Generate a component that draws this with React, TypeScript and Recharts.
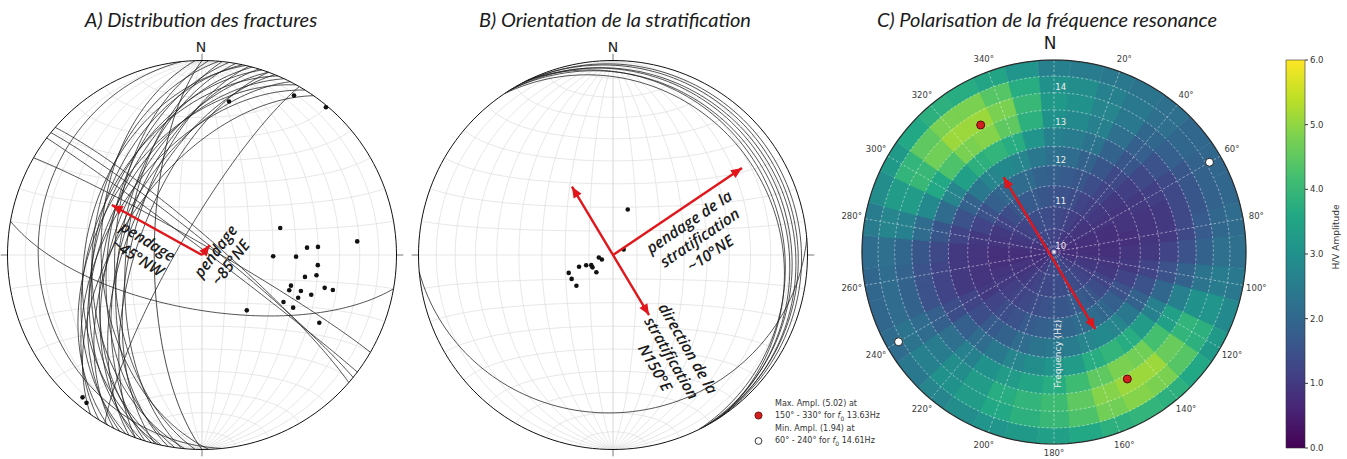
import React from 'react';
import {
  Bar,
  BarChart,
  Cell,
  PolarAngleAxis,
  PolarRadiusAxis,
  RadialBar,
  RadialBarChart,
  Scatter,
  ScatterChart,
  XAxis,
  YAxis
} from 'recharts';

// ---------- A) fractures : planes as [dip direction, dip], poles as [trend, plunge]
const FRACTURE_PLANES: Array<[number, number]> = [
  [264, 17], [270, 70], [300, 80],
  [268, 47], [272, 53], [275, 43], [276, 58], [278, 50], [280, 55], [282, 44],
  [284, 60], [285, 49], [287, 56], [288, 45], [290, 52], [292, 58], [293, 43],
  [295, 48], [297, 54], [299, 45], [302, 50], [305, 56], [283, 40], [290, 63],
  [39, 85], [37, 88], [41, 83], [30, 86],
  [190, 67]
];
const FRACTURE_POLES: Array<[number, number]> = [
  [10, 21], [30, 6], [40, 1], [71, 55], [85, 21], [86, 45], [86, 40], [91, 60],
  [91, 50], [95, 40], [102, 45], [100, 40], [109, 50], [112, 50], [110, 45],
  [105, 35], [105, 31], [114, 45], [110, 40], [120, 50], [120, 45], [141, 60],
  [120, 31], [220, 5], [218, 4]
];

// ---------- B) bedding
const BEDDING_PLANES: Array<[number, number]> = [
  [60, 4], [63, 6], [57, 8], [62, 10], [58, 12], [64, 14], [56, 16], [175, 20]
];
const BEDDING_POLES: Array<[number, number]> = [
  [18, 70], [63, 85], [248, 85], [260, 84], [245, 80], [249, 78], [239, 80],
  [251, 75], [248, 70], [240, 70], [230, 70], [224, 80]
];

// arrows: [azimuth, radius on the net]
type Arrow = { from: [number, number]; to: [number, number]; both: boolean };
const FRACTURE_ARROWS: Arrow[] = [
  { from: [0, 0], to: [299, 0.53], both: false },
  { from: [0, 0], to: [38, 0.065], both: false }
];
const BEDDING_ARROWS: Arrow[] = [
  { from: [0, 0], to: [56, 0.8], both: false },
  { from: [149, 0.36], to: [329, 0.41], both: true }
];
const POLAR_ARROWS: Arrow[] = [{ from: [152, 0.455], to: [326, 0.47], both: true }];

type Note = { x: number; y: number; rot: number; lines: string[] };
const FRACTURE_NOTES: Note[] = [
  { x: -0.305, y: 0.029, rot: 32, lines: ['pendage', '~45°NW'] },
  { x: 0.108, y: -0.01, rot: -53, lines: ['pendage', '~85°NE'] }
];
const BEDDING_NOTES: Note[] = [
  { x: 0.446, y: 0.089, rot: -34, lines: ['pendage de la', 'stratification', '~10°NE'] },
  { x: 0.301, y: -0.53, rot: 60, lines: ['direction de la', 'stratification', 'N150°E'] }
];

// ---------- C) H/V polarisation
const AZIMUTHS = [0, 10, 20, 30, 40, 50, 60, 70, 80, 90, 100, 110, 120, 130, 140, 150, 160, 170,
  180, 190, 200, 210, 220, 230, 240, 250, 260, 270, 280, 290, 300, 310, 320, 330, 340, 350];
const FREQ_EDGES = [10, 10.5, 11, 11.5, 12, 12.5, 13, 13.5, 14, 14.5, 15];
// one row per azimuth, one column per frequency ring
const HV_AMPLITUDE: number[][] = [
  [1.2, 1.3, 1.5, 1.8, 2.2, 2.6, 3.0, 3.2, 3.0, 2.6],
  [1.2, 1.3, 1.5, 1.7, 2.1, 2.5, 2.8, 3.0, 2.9, 2.5],
  [1.1, 1.2, 1.4, 1.6, 1.9, 2.3, 2.6, 2.7, 2.6, 2.4],
  [1.0, 1.1, 1.2, 1.4, 1.6, 1.9, 2.2, 2.4, 2.4, 2.3],
  [0.9, 1.0, 1.1, 1.2, 1.3, 1.6, 1.8, 2.0, 2.2, 2.2],
  [0.9, 0.9, 1.0, 1.0, 1.1, 1.3, 1.5, 1.8, 2.0, 2.0],
  [0.9, 0.9, 0.9, 0.9, 1.0, 1.1, 1.3, 1.6, 1.9, 2.0],
  [0.8, 0.8, 0.8, 0.9, 0.9, 1.0, 1.3, 1.6, 1.9, 2.0],
  [0.8, 0.8, 0.8, 0.8, 0.9, 1.0, 1.3, 1.7, 2.0, 2.1],
  [0.8, 0.8, 0.8, 0.9, 1.0, 1.2, 1.5, 1.9, 2.2, 2.2],
  [0.8, 0.9, 0.9, 1.0, 1.2, 1.5, 1.9, 2.3, 2.5, 2.4],
  [0.9, 1.0, 1.0, 1.2, 1.5, 2.0, 2.6, 3.0, 3.1, 2.8],
  [1.0, 1.1, 1.2, 1.5, 1.9, 2.6, 3.4, 3.9, 3.8, 3.2],
  [1.1, 1.2, 1.4, 1.8, 2.4, 3.3, 4.2, 4.6, 4.4, 3.6],
  [1.2, 1.3, 1.6, 2.0, 2.7, 3.7, 4.7, 5.1, 4.8, 3.8],
  [1.3, 1.4, 1.7, 2.1, 2.8, 3.9, 4.8, 5.1, 4.9, 3.9],
  [1.3, 1.4, 1.7, 2.1, 2.7, 3.7, 4.5, 4.9, 4.7, 3.8],
  [1.3, 1.4, 1.6, 2.0, 2.5, 3.3, 4.1, 4.5, 4.3, 3.6],
  [1.3, 1.4, 1.6, 1.9, 2.4, 3.1, 3.7, 4.1, 4.0, 3.4],
  [1.3, 1.3, 1.5, 1.8, 2.3, 2.9, 3.5, 3.9, 3.8, 3.2],
  [1.2, 1.3, 1.4, 1.7, 2.1, 2.7, 3.3, 3.7, 3.6, 3.1],
  [1.1, 1.2, 1.3, 1.5, 1.9, 2.4, 3.0, 3.3, 3.3, 2.9],
  [1.0, 1.1, 1.2, 1.4, 1.7, 2.1, 2.6, 2.9, 3.0, 2.7],
  [0.9, 1.0, 1.1, 1.2, 1.4, 1.8, 2.2, 2.5, 2.6, 2.4],
  [0.9, 0.9, 1.0, 1.0, 1.2, 1.4, 1.8, 2.1, 2.3, 2.1],
  [0.8, 0.9, 0.9, 0.9, 1.0, 1.2, 1.5, 1.9, 2.1, 2.0],
  [0.8, 0.8, 0.8, 0.9, 1.0, 1.2, 1.5, 1.9, 2.1, 2.0],
  [0.8, 0.8, 0.8, 0.9, 1.0, 1.3, 1.6, 2.0, 2.2, 2.1],
  [0.8, 0.9, 0.9, 1.0, 1.2, 1.6, 2.1, 2.6, 2.7, 2.5],
  [0.9, 1.0, 1.0, 1.2, 1.5, 2.1, 2.8, 3.3, 3.3, 2.9],
  [1.0, 1.1, 1.2, 1.5, 1.9, 2.7, 3.6, 4.0, 3.9, 3.2],
  [1.1, 1.2, 1.4, 1.8, 2.4, 3.4, 4.3, 4.7, 4.5, 3.6],
  [1.2, 1.3, 1.6, 2.0, 2.7, 3.8, 4.8, 5.1, 4.8, 3.8],
  [1.3, 1.4, 1.7, 2.1, 2.8, 3.9, 4.9, 5.1, 4.8, 3.7],
  [1.3, 1.4, 1.7, 2.1, 2.7, 3.7, 4.5, 4.8, 4.4, 3.5],
  [1.2, 1.4, 1.6, 1.9, 2.4, 3.1, 3.8, 4.0, 3.7, 3.1]
];
const FREQ_GRID = [10.5, 11, 11.5, 12, 12.5, 13, 13.5, 14, 14.5];
const FREQ_LABELS = [10, 11, 12, 13, 14];
const ANGLE_TICKS = [20, 40, 60, 80, 100, 120, 140, 160, 180, 200, 220, 240, 260, 280, 300, 320, 340];
const EXTREMES = [
  { az: 330, f: 13.63, kind: 'max' },
  { az: 150, f: 13.63, kind: 'max' },
  { az: 60, f: 14.61, kind: 'min' },
  { az: 240, f: 14.61, kind: 'min' }
];
const COLORBAR_TICKS = [0, 1, 2, 3, 4, 5, 6];

const VIRIDIS = ['#440154', '#482475', '#414487', '#355f8d', '#2a788e', '#21918c',
  '#22a884', '#44bf70', '#7ad151', '#bddf26', '#fde725'];
const RED = '#e0161b';
const TXT = '#1b1b1b';

const rad = (d: number) => (d * Math.PI) / 180;
const polar = (az: number, r: number) => ({ x: r * Math.sin(rad(az)), y: r * Math.cos(rad(az)) });

function viridis(t: number) {
  const p = Math.max(0, Math.min(1, t)) * 10;
  const i = Math.min(9, Math.floor(p));
  const f = p - i;
  const a = VIRIDIS[i];
  const b = VIRIDIS[i + 1];
  const ch = (s: string, k: number) => parseInt(s.slice(1 + 2 * k, 3 + 2 * k), 16);
  const c = [0, 1, 2].map((k) => Math.round(ch(a, k) + (ch(b, k) - ch(a, k)) * f));
  return `rgb(${c[0]},${c[1]},${c[2]})`;
}

// equal-area (Schmidt), lower hemisphere
const projectVec = (e: number, n: number, d: number) => {
  const k = 1 / Math.sqrt(1 + d);
  return { x: e * k, y: n * k };
};
const projectLine = (trend: number, plunge: number) => {
  const r = Math.SQRT2 * Math.sin(rad((90 - plunge) / 2));
  return polar(trend, r);
};
function greatCircle(dipDir: number, dip: number) {
  const s = rad(dipDir - 90);
  const dd = rad(dipDir);
  const dp = rad(dip);
  const pts = [];
  for (let i = 0; i <= 90; i++) {
    const a = (Math.PI * i) / 90;
    const e = Math.cos(a) * Math.sin(s) + Math.sin(a) * Math.cos(dp) * Math.sin(dd);
    const n = Math.cos(a) * Math.cos(s) + Math.sin(a) * Math.cos(dp) * Math.cos(dd);
    pts.push(projectVec(e, n, Math.sin(a) * Math.sin(dp)));
  }
  return pts;
}
function smallCircleNS(c: number) {
  const pts = [];
  for (let i = 0; i <= 60; i++) {
    const p = (Math.PI * i) / 60;
    pts.push(projectVec(Math.sin(rad(c)) * Math.cos(p), Math.cos(rad(c)), Math.sin(rad(c)) * Math.sin(p)));
  }
  return pts;
}
const ring = (r: number) => Array.from({ length: 181 }, (_, i) => polar(i * 2, r));

const NET_GRID = [
  ...[10, 20, 30, 40, 50, 60, 70, 80, 90].flatMap((d) => [greatCircle(90, d), greatCircle(270, d)]),
  ...[10, 20, 30, 40, 50, 60, 70, 80, 90, 100, 110, 120, 130, 140, 150, 160, 170].map(smallCircleNS)
];
const NET_TICKS = [0, 90, 180, 270].map((az) => [polar(az, 1), polar(az, 1.035)]);

const noDot = () => <g />;
const PoleDot = (p: any) => <circle cx={p.cx} cy={p.cy} r={2.3} fill="#111" />;

function ArrowHead(p: any) {
  const a = p.payload.angle;
  const L = 11;
  const W = 4.6;
  const bx = p.cx - L * Math.cos(a);
  const by = p.cy - L * Math.sin(a);
  const px = -Math.sin(a) * W;
  const py = Math.cos(a) * W;
  return <polygon points={`${p.cx},${p.cy} ${bx + px},${by + py} ${bx - px},${by - py}`} fill={RED} />;
}

function NoteShape(p: any) {
  const n = p.payload;
  const fs = n.size || 15.5;
  const lh = n.lh || 19;
  const y0 = -((n.lines.length - 1) / 2) * lh + fs * 0.35;
  return (
    <text
      transform={`translate(${p.cx},${p.cy}) rotate(${n.rot})`}
      textAnchor="middle"
      fontFamily={n.font || '"Open Sans", sans-serif'}
      fontStyle={n.italic === false ? 'normal' : 'italic'}
      fontWeight={n.weight || 600}
      fontSize={fs}
      fill={n.color || TXT}
    >
      {n.lines.map((l: string, i: number) => (
        <tspan key={i} x={0} y={y0 + i * lh}>{l}</tspan>
      ))}
    </text>
  );
}

function arrowParts(arrows: Arrow[]) {
  return arrows.map((ar) => {
    const a = polar(ar.from[0], ar.from[1]);
    const b = polar(ar.to[0], ar.to[1]);
    const heads = [{ ...b, angle: Math.atan2(-(b.y - a.y), b.x - a.x) }];
    if (ar.both) heads.push({ ...a, angle: Math.atan2(-(a.y - b.y), a.x - b.x) });
    return { shaft: [a, b], heads };
  });
}

const NET_SIZE = 410;
const NET_R = 194.5;
const NET_D = NET_SIZE / 2 / NET_R;

function Stereonet(props: {
  left: number;
  top: number;
  planes: Array<[number, number]>;
  poles: Array<[number, number]>;
  arrows: Arrow[];
  notes: Note[];
}) {
  const parts = arrowParts(props.arrows);
  return (
    <div style={{ position: 'absolute', left: props.left, top: props.top }}>
      <ScatterChart width={NET_SIZE} height={NET_SIZE} margin={{ top: 0, right: 0, bottom: 0, left: 0 }}>
        <XAxis type="number" dataKey="x" domain={[-NET_D, NET_D]} hide allowDataOverflow />
        <YAxis type="number" dataKey="y" domain={[-NET_D, NET_D]} hide allowDataOverflow />
        {NET_GRID.map((pts, i) => (
          <Scatter key={`g${i}`} data={pts} line={{ stroke: '#dcdcdc', strokeWidth: 0.7 }} shape={noDot} isAnimationActive={false} />
        ))}
        {NET_TICKS.map((pts, i) => (
          <Scatter key={`t${i}`} data={pts} line={{ stroke: '#555', strokeWidth: 0.8 }} shape={noDot} isAnimationActive={false} />
        ))}
        <Scatter data={ring(1)} line={{ stroke: '#111', strokeWidth: 1 }} shape={noDot} isAnimationActive={false} />
        {props.planes.map(([dd, dip], i) => (
          <Scatter key={`p${i}`} data={greatCircle(dd, dip)} line={{ stroke: '#1c1c1c', strokeWidth: 0.75 }} shape={noDot} isAnimationActive={false} />
        ))}
        <Scatter data={props.poles.map(([t, p]) => projectLine(t, p))} shape={PoleDot} isAnimationActive={false} />
        {parts.map((pt, i) => (
          <Scatter key={`a${i}`} data={pt.shaft} line={{ stroke: RED, strokeWidth: 2.4 }} shape={noDot} isAnimationActive={false} />
        ))}
        {parts.map((pt, i) => (
          <Scatter key={`h${i}`} data={pt.heads} shape={ArrowHead} isAnimationActive={false} />
        ))}
        <Scatter data={props.notes} shape={NoteShape} isAnimationActive={false} />
      </ScatterChart>
    </div>
  );
}

// ---- polar heat map
const POLAR_R = 192;
const POLAR_CX = 1054;
const POLAR_CY = 252;
const freqUnit = (f: number) => Math.log(f / FREQ_EDGES[0]) / Math.log(FREQ_EDGES[FREQ_EDGES.length - 1] / FREQ_EDGES[0]);
const RING_IDX = FREQ_EDGES.slice(1).map((_, k) => k);
const HEAT_ROWS = AZIMUTHS.map((az) => {
  const row: Record<string, number> = { az };
  RING_IDX.forEach((k) => {
    row[`top${k}`] = FREQ_EDGES[k + 1];
  });
  return row;
});

function PolarHeat() {
  const S = 400;
  return (
    <div style={{ position: 'absolute', left: POLAR_CX - S / 2, top: POLAR_CY - S / 2 }}>
      <RadialBarChart
        width={S}
        height={S}
        cx={S / 2}
        cy={S / 2}
        innerRadius={0}
        outerRadius={POLAR_R}
        data={HEAT_ROWS}
        layout="centric"
        startAngle={85}
        endAngle={-275}
        barCategoryGap={0}
        barGap={0}
        margin={{ top: 0, right: 0, bottom: 0, left: 0 }}
      >
        {RING_IDX.map((k) => (
          <PolarAngleAxis key={`ax${k}`} angleAxisId={k} type="category" dataKey="az" tick={false} axisLine={false} tickLine={false} />
        ))}
        <PolarRadiusAxis type="number" scale="log" domain={[FREQ_EDGES[0], FREQ_EDGES[FREQ_EDGES.length - 1]]} tick={false} axisLine={false} allowDataOverflow />
        {[...RING_IDX].reverse().map((k) => (
          <RadialBar key={`r${k}`} angleAxisId={k} dataKey={`top${k}`} isAnimationActive={false}>
            {AZIMUTHS.map((az, j) => {
              const c = viridis(HV_AMPLITUDE[j][k] / 6);
              return <Cell key={`c${az}`} fill={c} stroke={c} strokeWidth={0.5} />;
            })}
          </RadialBar>
        ))}
      </RadialBarChart>
    </div>
  );
}

const OV_SIZE = 460;
const OV_D = OV_SIZE / 2 / POLAR_R;

const ExtremeDot = (p: any) => (
  <circle
    cx={p.cx}
    cy={p.cy}
    r={4}
    fill={p.payload.kind === 'max' ? '#d11f1f' : '#ffffff'}
    stroke={p.payload.kind === 'max' ? '#5a0a0a' : '#222'}
    strokeWidth={1}
  />
);

const SANS = '"DejaVu Sans", sans-serif';

function PolarOverlay() {
  const parts = arrowParts(POLAR_ARROWS);
  const angleNotes = ANGLE_TICKS.map((az) => ({
    ...polar(az, az === 180 ? 1.045 : 1.07), rot: 0, lines: [`${az}°`], size: 8.5, lh: 10, font: SANS, italic: false, weight: 400, color: '#3a3a3a'
  }));
  const radialNotes = FREQ_LABELS.map((f) => {
    const p = polar(0, freqUnit(f));
    return { x: p.x + 0.035, y: p.y + 0.03, rot: 0, lines: [`${f}`], size: 8.5, lh: 10, font: SANS, italic: false, weight: 400, color: '#f0f0f0' };
  });
  const freqTitle = [{ x: 0.022, y: -0.53, rot: -90, lines: ['Frequency (Hz)'], size: 9, lh: 10, font: SANS, italic: false, weight: 400, color: '#eeeeee' }];
  return (
    <div style={{ position: 'absolute', left: POLAR_CX - OV_SIZE / 2, top: POLAR_CY - OV_SIZE / 2 }}>
      <ScatterChart width={OV_SIZE} height={OV_SIZE} margin={{ top: 0, right: 0, bottom: 0, left: 0 }}>
        <XAxis type="number" dataKey="x" domain={[-OV_D, OV_D]} hide allowDataOverflow />
        <YAxis type="number" dataKey="y" domain={[-OV_D, OV_D]} hide allowDataOverflow />
        {AZIMUTHS.filter((az) => az % 20 === 0).map((az) => (
          <Scatter key={`rl${az}`} data={[polar(az, 0), polar(az, 1)]} line={{ stroke: 'rgba(255,255,255,0.55)', strokeWidth: 0.8, strokeDasharray: '2.5 2' }} shape={noDot} isAnimationActive={false} />
        ))}
        {FREQ_GRID.map((f) => (
          <Scatter key={`fc${f}`} data={ring(freqUnit(f))} line={{ stroke: 'rgba(255,255,255,0.55)', strokeWidth: 0.8, strokeDasharray: '2.5 2' }} shape={noDot} isAnimationActive={false} />
        ))}
        <Scatter data={ring(1)} line={{ stroke: '#2b2b2b', strokeWidth: 1.2 }} shape={noDot} isAnimationActive={false} />
        {parts.map((pt, i) => (
          <Scatter key={`a${i}`} data={pt.shaft} line={{ stroke: RED, strokeWidth: 2.4 }} shape={noDot} isAnimationActive={false} />
        ))}
        {parts.map((pt, i) => (
          <Scatter key={`h${i}`} data={pt.heads} shape={ArrowHead} isAnimationActive={false} />
        ))}
        <Scatter data={EXTREMES.map((e) => ({ ...polar(e.az, freqUnit(e.f)), kind: e.kind }))} shape={ExtremeDot} isAnimationActive={false} />
        <Scatter data={[...angleNotes, ...radialNotes, ...freqTitle]} shape={NoteShape} isAnimationActive={false} />
      </ScatterChart>
    </div>
  );
}

function ColorBar() {
  return (
    <div style={{ position: 'absolute', left: 1276, top: 50 }}>
      <BarChart width={71} height={408} data={[{ name: 'amp', v: 6 }]} margin={{ top: 10, right: 6, bottom: 10, left: 10 }} barCategoryGap={0}>
        <defs>
          <linearGradient id="viridisBar" x1="0" y1="1" x2="0" y2="0">
            {VIRIDIS.map((c, i) => (
              <stop key={c} offset={`${i * 10}%`} stopColor={c} />
            ))}
          </linearGradient>
        </defs>
        <XAxis dataKey="name" hide />
        <YAxis
          orientation="right"
          type="number"
          domain={[0, 6]}
          ticks={COLORBAR_TICKS}
          tickFormatter={(v: number) => v.toFixed(1)}
          width={36}
          axisLine={false}
          tickSize={3}
          tickLine={{ stroke: '#333' }}
          tick={{ fontSize: 8.5, fill: '#333', fontFamily: 'DejaVu Sans' }}
        />
        <Bar dataKey="v" fill="url(#viridisBar)" stroke="#333" strokeWidth={0.6} isAnimationActive={false} />
      </BarChart>
    </div>
  );
}

const titleStyle: React.CSSProperties = {
  position: 'absolute',
  top: 7,
  width: 440,
  textAlign: 'center',
  fontFamily: 'Lato, sans-serif',
  fontStyle: 'italic',
  fontSize: 20,
  lineHeight: '24px',
  color: TXT,
  whiteSpace: 'nowrap'
};
const northStyle: React.CSSProperties = {
  position: 'absolute',
  width: 40,
  textAlign: 'center',
  fontFamily: SANS,
  fontSize: 14,
  lineHeight: '16px',
  color: TXT
};
const legendText: React.CSSProperties = {
  position: 'absolute',
  left: 775,
  fontFamily: SANS,
  fontSize: 8,
  lineHeight: '11px',
  color: '#333',
  whiteSpace: 'nowrap'
};

export default function App() {
  return (
    <div style={{ position: 'absolute', left: 0, top: 0, width: 1347, height: 459, background: '#fff', overflow: 'hidden' }}>
      <div style={{ ...titleStyle, left: 201 - 220 }}>A) Distribution des fractures</div>
      <div style={{ ...titleStyle, left: 615 - 220 }}>B) Orientation de la stratification</div>
      <div style={{ ...titleStyle, left: 1047 - 220 }}>C) Polarisation de la fréquence resonance</div>
      <div style={{ ...northStyle, left: 201 - 20, top: 39 }}>N</div>
      <div style={{ ...northStyle, left: 613 - 20, top: 39 }}>N</div>
      <div style={{ ...northStyle, left: 1050 - 20, top: 33, fontSize: 17, lineHeight: '20px' }}>N</div>
      <Stereonet left={202 - NET_SIZE / 2} top={255 - NET_SIZE / 2} planes={FRACTURE_PLANES} poles={FRACTURE_POLES} arrows={FRACTURE_ARROWS} notes={FRACTURE_NOTES} />
      <Stereonet left={613 - NET_SIZE / 2} top={255 - NET_SIZE / 2} planes={BEDDING_PLANES} poles={BEDDING_POLES} arrows={BEDDING_ARROWS} notes={BEDDING_NOTES} />
      <PolarHeat />
      <PolarOverlay />
      <ColorBar />
      <div style={{ position: 'absolute', left: 1336, top: 237, transform: 'translate(-50%,-50%) rotate(-90deg)', fontFamily: SANS, fontSize: 9, color: '#333', whiteSpace: 'nowrap' }}>
        H/V Amplitude
      </div>
      <svg style={{ position: 'absolute', left: 750, top: 405 }} width={20} height={45}>
        <circle cx={8.5} cy={10.5} r={3.6} fill="#d11f1f" stroke="#5a0a0a" strokeWidth={0.8} />
        <circle cx={8.5} cy={36} r={3.4} fill="#fff" stroke="#222" strokeWidth={0.9} />
      </svg>
      <div style={{ ...legendText, top: 398 }}>Max. Ampl. (5.02) at</div>
      <div style={{ ...legendText, top: 410 }}>150° - 330° for <i>f</i><sub style={{ fontSize: 6 }}>0</sub> 13.63Hz</div>
      <div style={{ ...legendText, top: 423 }}>Min. Ampl. (1.94) at</div>
      <div style={{ ...legendText, top: 435 }}>60° - 240° for <i>f</i><sub style={{ fontSize: 6 }}>0</sub> 14.61Hz</div>
    </div>
  );
}
